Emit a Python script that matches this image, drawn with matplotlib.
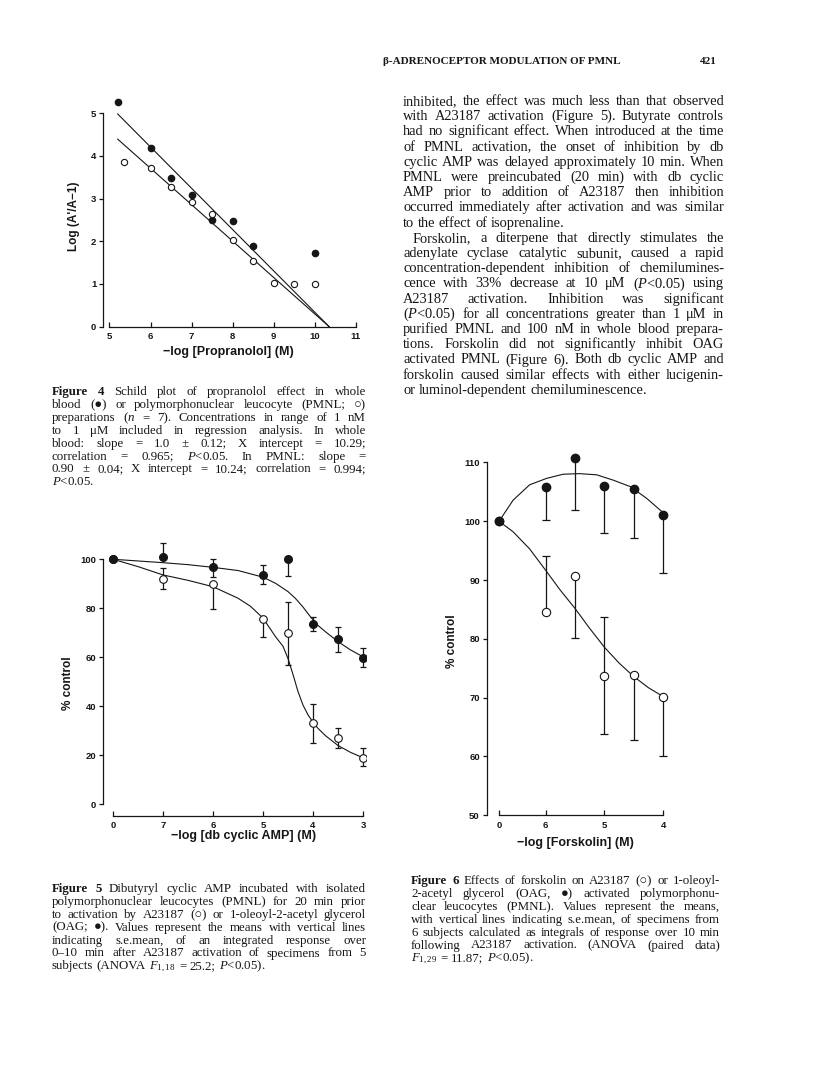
import numpy as np
import matplotlib
matplotlib.use('Agg')
import matplotlib.pyplot as plt

plt.rcParams['mathtext.fontset'] = 'custom'
plt.rcParams['mathtext.rm'] = 'Liberation Serif'
plt.rcParams['mathtext.it'] = 'Liberation Serif:italic'
plt.rcParams['mathtext.bf'] = 'Liberation Serif:bold'

W, H = 816, 1092
INK = '#161616'
SANS = ['Liberation Sans', 'DejaVu Sans']
SERIF = ['Liberation Serif', 'DejaVu Sans']

# ---- Figure 4: Schild plot ----
blood_x = [5.2, 6, 6.5, 7, 7.5, 8, 8.5, 10]
blood_y = [5.25, 4.18, 3.48, 3.08, 2.5, 2.47, 1.9, 1.72]
pmnl_x = [5.35, 6, 6.5, 7, 7.5, 8, 8.5, 9, 9.5, 10]
pmnl_y = [3.86, 3.72, 3.27, 2.92, 2.63, 2.03, 1.53, 1.03, 1.0, 1.0]
fit_x = [5.2, 10.35]
blood_fit = [4.98, 0.0]
pmnl_fit = [4.39, 0.0]

# ---- Figure 5: db cyclic AMP (control plotted at 8, labelled 0) ----
f5_x = [8, 7, 6, 5, 4.5, 4, 3.5, 3]
f5_oag = [100, 100.8, 96.7, 93.7, 100.2, 73.7, 67.3, 59.8]
f5_oag_lo = [0, 0, 3.8, 3.9, 7.0, 3.0, 5.0, 3.9]
f5_oag_hi = [0, 6.0, 3.4, 4.1, 0, 2.6, 5.2, 4.1]
f5_a23 = [100, 91.8, 89.9, 75.8, 70.0, 33.1, 26.9, 19.0]
f5_a23_lo = [0, 4.0, 10.0, 7.6, 13.1, 7.9, 4.0, 3.4]
f5_a23_hi = [0, 4.5, 0, 0, 12.7, 7.8, 4.1, 3.9]
f5_oag_cx = [8, 7.5, 7, 6.5, 6, 5.5, 5, 4.75, 4.5, 4.35, 4.2, 4.05, 3.9, 3.75, 3.5, 3.25, 3]
f5_oag_cy = [100, 99.3, 98.6, 97.8, 96.7, 95.4, 92.7, 90.2, 86.8, 84, 80.5, 76.5, 73, 70.4, 66.4, 63, 60.2]
f5_a23_cx = [8, 7.5, 7, 6.5, 6, 5.5, 5.25, 5, 4.75, 4.6, 4.5, 4.4, 4.3, 4.2, 4.1, 4.0, 3.9, 3.75, 3.5, 3.25, 3]
f5_a23_cy = [100, 97, 93.6, 91.4, 88.8, 84.1, 80.8, 76, 68.4, 64.5, 59.5, 53, 46, 40.5, 36.5, 33.5, 31, 28, 24, 21.2, 19]
f5_ticks = [8, 7, 6, 5, 4, 3]
f5_labels = ['0', '7', '6', '5', '4', '3']

# ---- Figure 6: forskolin (control plotted at 6.79, labelled 0) ----
f6_x = [6.79, 6, 5.5, 5, 4.5, 4]
f6_oag = [100, 105.9, 110.7, 106.0, 105.5, 101.0]
f6_oag_lo = [0, 5.7, 8.7, 8.0, 8.3, 9.8]
f6_oag_hi = [0, 0, 0, 0, 0, 0]
f6_a23 = [100, 84.5, 90.7, 73.7, 73.9, 70.1]
f6_a23_lo = [0, 0, 10.6, 9.9, 11.1, 10.1]
f6_a23_hi = [0, 9.6, 0, 10.0, 0, 0]
f6_oag_cx = [6.79, 6.55, 6.27, 5.98, 5.70, 5.42, 5.13, 4.85, 4.56, 4.28, 3.97]
f6_oag_cy = [100, 103.6, 106.2, 107.3, 108, 108.1, 107.9, 107, 105.9, 103.9, 101.2]
f6_a23_cx = [6.79, 6.55, 6.27, 6.0, 5.75, 5.5, 5.25, 5.0, 4.75, 4.5, 4.25, 4.0]
f6_a23_cy = [100, 98.2, 95.3, 91.7, 88.3, 85.2, 81.8, 78.6, 75.9, 73.6, 71.7, 70.2]
f6_ticks = [6.79, 6, 5, 4]
f6_labels = ['0', '6', '5', '4']

fig = plt.figure(figsize=(W / 100, H / 100), dpi=100)
fig.patch.set_facecolor('white')


def box(left, top, right, bottom):
    return fig.add_axes([left / W, 1 - bottom / H, (right - left) / W, (bottom - top) / H])


def style(ax):
    for s in ('top', 'right'):
        ax.spines[s].set_visible(False)
    for s in ('left', 'bottom'):
        ax.spines[s].set_linewidth(0.9)
        ax.spines[s].set_color(INK)
    ax.tick_params(axis='y', direction='out', length=3, width=0.9, labelsize=6.8, pad=2, colors=INK)
    ax.tick_params(axis='x', direction='in', length=3.5, width=0.9, labelsize=6.8, pad=4, colors=INK)
    for lab in ax.get_xticklabels() + ax.get_yticklabels():
        lab.set_family(SANS)
        lab.set_fontweight('bold')
    ax.patch.set_alpha(0)


def bars(ax, x, y, lo, hi, cap):
    for xi, yi, l, h in zip(x, y, lo, hi):
        if l > 0:
            ax.vlines(xi, yi - l, yi, color=INK, lw=0.9, zorder=2)
            ax.plot([xi], [yi - l], marker='_', ms=cap, mew=0.9, color=INK, zorder=2)
        if h > 0:
            ax.vlines(xi, yi, yi + h, color=INK, lw=0.9, zorder=2)
            ax.plot([xi], [yi + h], marker='_', ms=cap, mew=0.9, color=INK, zorder=2)


# Figure 4
ax4 = box(103.3, 96, 360, 326.7)
ax4.set_xlim(4.85, 11.1)
ax4.set_ylim(0, 5.4)
ax4.plot(fit_x, blood_fit, color=INK, lw=0.8)
ax4.plot(fit_x, pmnl_fit, color=INK, lw=0.8)
ax4.plot(blood_x, blood_y, 'o', ms=4.5, color=INK, zorder=3)
ax4.plot(pmnl_x, pmnl_y, 'o', ms=4.5, mfc='white', mec=INK, mew=0.8, zorder=3)
ax4.spines['left'].set_bounds(0, 5)
ax4.spines['bottom'].set_bounds(5, 11)
ax4.set_xticks(range(5, 12))
ax4.set_yticks(range(0, 6))
style(ax4)
ax4.set_ylabel("Log (A'/A\u22121)", fontsize=8.5, fontweight='bold', family=SANS, color=INK)
ax4.yaxis.set_label_coords((80 - 103.3) / 256.7, (326.7 - 216) / 230.7)
ax4.set_xlabel('\u2212log [Propranolol] (M)', fontsize=9, fontweight='bold', family=SANS, color=INK)
ax4.xaxis.set_label_coords((228 - 103.3) / 256.7, (326.7 - 346) / 230.7)

# Figure 5
ax5 = box(103, 537.2, 365.5, 815.7)
ax5.set_xlim(8.2, 2.95)
ax5.set_ylim(-4.65, 109)
ax5.plot(f5_oag_cx, f5_oag_cy, color=INK, lw=0.8)
ax5.plot(f5_a23_cx, f5_a23_cy, color=INK, lw=0.8)
bars(ax5, f5_x, f5_a23, f5_a23_lo, f5_a23_hi, 5)
bars(ax5, f5_x, f5_oag, f5_oag_lo, f5_oag_hi, 5)
ax5.plot(f5_x, f5_a23, 'o', ms=5.5, mfc='white', mec=INK, mew=0.8, zorder=3)
ax5.plot(f5_x, f5_oag, 'o', ms=5.5, color=INK, zorder=4)
ax5.spines['left'].set_bounds(0, 100)
ax5.spines['bottom'].set_bounds(3, 8)
ax5.set_xticks(f5_ticks)
ax5.set_xticklabels(f5_labels)
ax5.set_yticks(range(0, 101, 20))
style(ax5)
ax5.set_ylabel('% control', fontsize=8.5, fontweight='bold', family=SANS, color=INK)
ax5.yaxis.set_label_coords((74 - 103) / 262.5, (815.7 - 683) / 278.5)
ax5.set_xlabel('\u2212log [db cyclic AMP] (M)', fontsize=9, fontweight='bold', family=SANS, color=INK)
ax5.xaxis.set_label_coords((244 - 103) / 262.5, (815.7 - 830) / 278.5)

# Figure 6
ax6 = box(486.7, 450.7, 669, 815.3)
ax6.set_xlim(7.0, 3.9)
ax6.set_ylim(50, 112)
ax6.plot(f6_oag_cx, f6_oag_cy, color=INK, lw=0.8)
ax6.plot(f6_a23_cx, f6_a23_cy, color=INK, lw=0.8)
bars(ax6, f6_x, f6_a23, f6_a23_lo, f6_a23_hi, 5.5)
bars(ax6, f6_x, f6_oag, f6_oag_lo, f6_oag_hi, 5.5)
ax6.plot(f6_x, f6_a23, 'o', ms=6, mfc='white', mec=INK, mew=0.8, zorder=3)
ax6.plot(f6_x, f6_oag, 'o', ms=6, color=INK, zorder=4)
ax6.spines['left'].set_bounds(50, 110)
ax6.spines['bottom'].set_bounds(4, 6.79)
ax6.set_xticks(f6_ticks)
ax6.set_xticklabels(f6_labels)
ax6.set_yticks(range(50, 111, 10))
style(ax6)
ax6.set_ylabel('% control', fontsize=8.5, fontweight='bold', family=SANS, color=INK)
ax6.yaxis.set_label_coords((458 - 486.7) / 182.3, (815.3 - 641) / 364.6)
ax6.set_xlabel('\u2212log [Forskolin] (M)', fontsize=9, fontweight='bold', family=SANS, color=INK)
ax6.xaxis.set_label_coords((575 - 486.7) / 182.3, (815.3 - 837) / 364.6)

# ---- page text ----
renderer = fig.canvas.get_renderer()


def lines_out(lines, x0, x1, base0, dy, size, free=(), indent=()):
    for i, line in enumerate(lines):
        objs = []
        for w in line.split():
            bold = w.startswith('^')
            t = fig.text(0, 0, w.lstrip('^'), fontsize=size, family=SERIF, color=INK,
                         fontweight='bold' if bold else 'normal', va='baseline', ha='left')
            objs.append(t)
        widths = [t.get_window_extent(renderer).width for t in objs]
        start = x0 + (10 if i in indent else 0)
        if i in free or len(objs) < 2:
            gap = size * 0.35
        else:
            gap = (x1 - start - sum(widths)) / (len(objs) - 1)
        x = start
        y = base0 + i * dy
        for t, wd in zip(objs, widths):
            t.set_position((x / W, 1 - y / H))
            x += wd + gap


fig.text(383 / W, 1 - 64 / H, '\u03b2-ADRENOCEPTOR MODULATION OF PMNL', fontsize=8,
         fontweight='bold', family=SERIF, color=INK, va='baseline')
fig.text(717 / W, 1 - 64 / H, '421', fontsize=8, fontweight='bold', family=SERIF,
         color=INK, va='baseline', ha='right')

body = [
    'inhibited, the effect was much less than that observed',
    'with A23187 activation (Figure 5). Butyrate controls',
    'had no significant effect. When introduced at the time',
    'of PMNL activation, the onset of inhibition by db',
    'cyclic AMP was delayed approximately 10 min. When',
    'PMNL were preincubated (20 min) with db cyclic',
    'AMP prior to addition of A23187 then inhibition',
    'occurred immediately after activation and was similar',
    'to the effect of isoprenaline.',
    'Forskolin, a diterpene that directly stimulates the',
    'adenylate cyclase catalytic subunit, caused a rapid',
    'concentration-dependent inhibition of chemilumines-',
    'cence with 33% decrease at 10 \u03bcM ($P$<0.05) using',
    'A23187 activation. Inhibition was significant',
    '($P$<0.05) for all concentrations greater than 1 \u03bcM in',
    'purified PMNL and 100 nM in whole blood prepara-',
    'tions. Forskolin did not significantly inhibit OAG',
    'activated PMNL (Figure 6). Both db cyclic AMP and',
    'forskolin caused similar effects with either lucigenin-',
    'or luminol-dependent chemiluminescence.',
]
lines_out(body, 403, 724, 105, 15.2, 10.4, free=(8, 19), indent=(9,))

cap4 = [
    '^Figure ^4 Schild plot of propranolol effect in whole',
    'blood (\u25cf) or polymorphonuclear leucocyte (PMNL; \u25cb)',
    'preparations ($n$ = 7). Concentrations in range of 1 nM',
    'to 1 \u03bcM included in regression analysis. In whole',
    'blood: slope = 1.0 \u00b1 0.12; X intercept = 10.29;',
    'correlation = 0.965; $P$<0.05. In PMNL: slope =',
    '0.90 \u00b1 0.04; X intercept = 10.24; correlation = 0.994;',
    '$P$<0.05.',
]
lines_out(cap4, 52, 366, 395, 12.9, 9.3, free=(7,))

cap5 = [
    '^Figure ^5 Dibutyryl cyclic AMP incubated with isolated',
    'polymorphonuclear leucocytes (PMNL) for 20 min prior',
    'to activation by A23187 (\u25cb) or 1-oleoyl-2-acetyl glycerol',
    '(OAG; \u25cf). Values represent the means with vertical lines',
    'indicating s.e.mean, of an integrated response over',
    '0\u201310 min after A23187 activation of specimens from 5',
    'subjects (ANOVA $F_{1,18}$ = 25.2; $P$<0.05).',
]
lines_out(cap5, 52, 366, 892, 12.9, 9.3, free=(6,))

cap6 = [
    '^Figure ^6 Effects of forskolin on A23187 (\u25cb) or 1-oleoyl-',
    '2-acetyl glycerol (OAG, \u25cf) activated polymorphonu-',
    'clear leucocytes (PMNL). Values represent the means,',
    'with vertical lines indicating s.e.mean, of specimens from',
    '6 subjects calculated as integrals of response over 10 min',
    'following A23187 activation. (ANOVA (paired data)',
    '$F_{1,29}$ = 11.87; $P$<0.05).',
]
lines_out(cap6, 411, 720, 884, 12.9, 9.3, free=(6,))

fig.savefig('out.png', dpi=100, facecolor='white')
